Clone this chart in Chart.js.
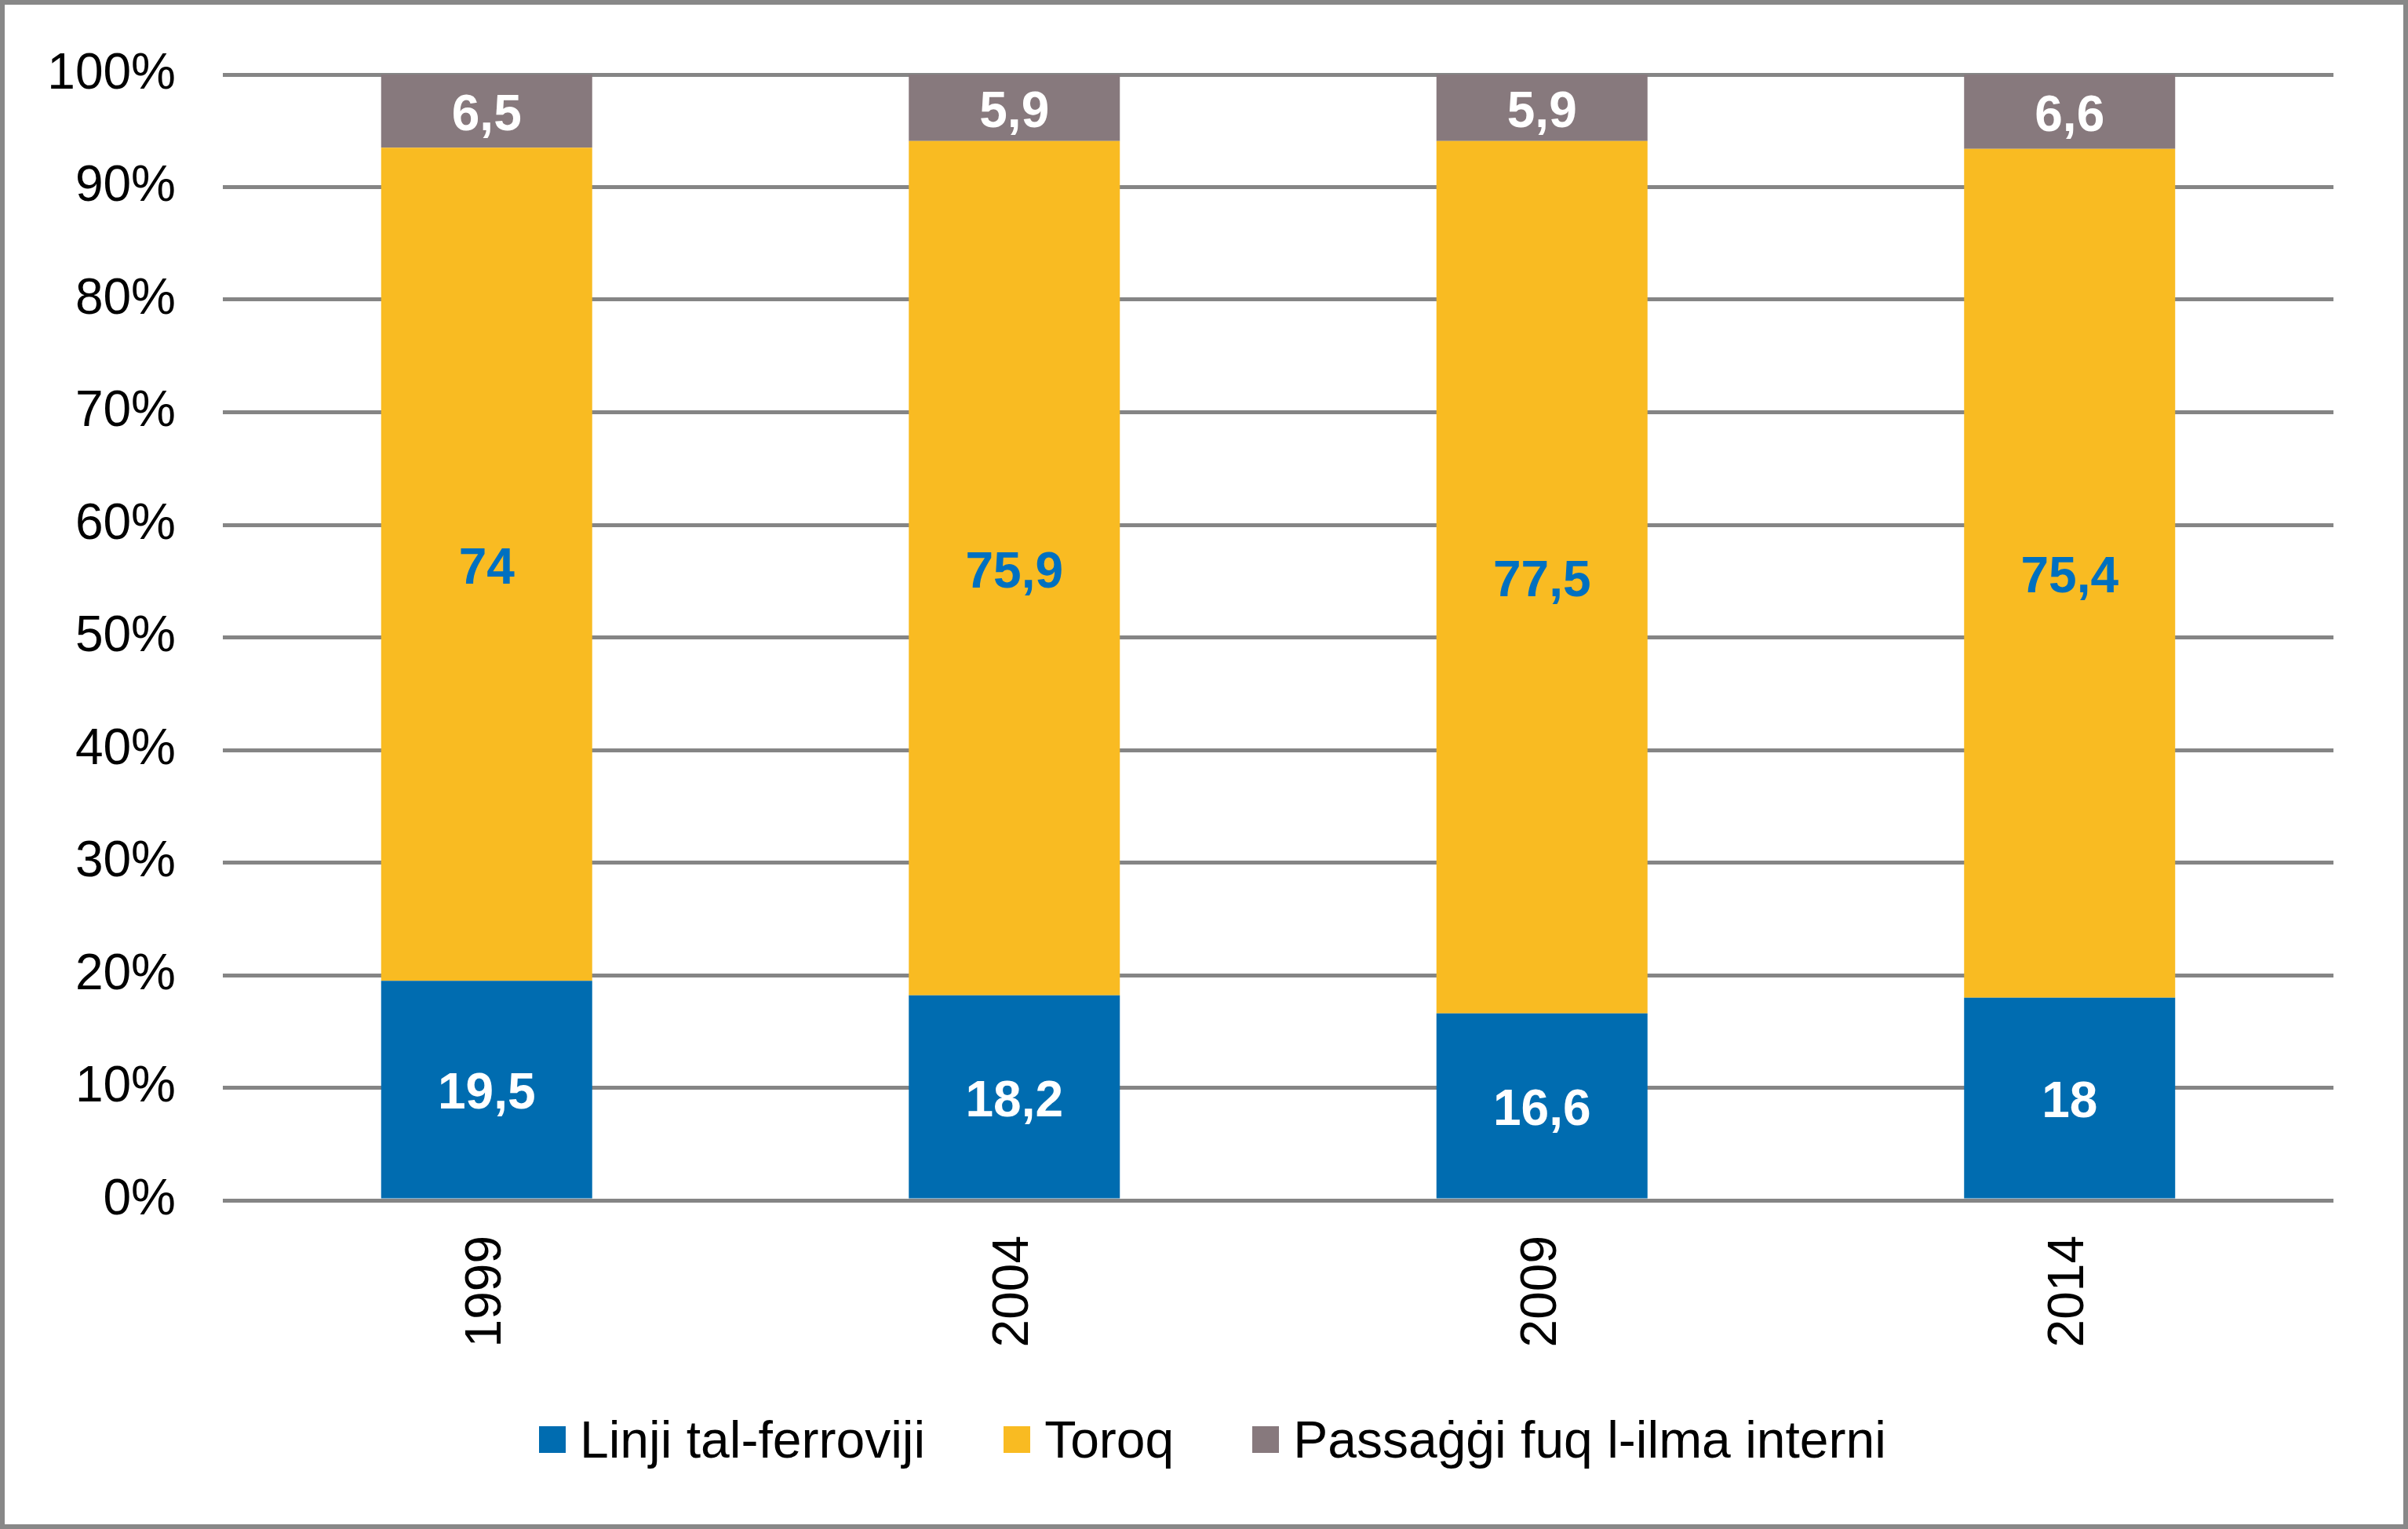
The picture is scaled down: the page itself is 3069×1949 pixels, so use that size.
<!DOCTYPE html>
<html>
<head>
<meta charset="utf-8">
<script src="https://cdn.jsdelivr.net/npm/chart.js@4.4.1/dist/chart.umd.min.js"></script>
<style>
  html, body { margin: 0; padding: 0; background: #fff; }
  #wrap {
    position: relative;
    width: 3069px;
    height: 1949px;
    box-sizing: border-box;
    border: 6px solid #888888;
    background: #fff;
  }
  #chart { display: block; width: 3057px; height: 1937px; }
  #legend {
    position: absolute;
    left: 681px;
    top: 1796px;
    height: 66px;
    display: flex;
    align-items: center;
    font-family: 'Liberation Sans', Arial, sans-serif;
    font-size: 66px;
    color: #000;
    white-space: nowrap;
  }
  #legend .item { display: flex; align-items: center; margin-right: 100px; }
  #legend .box { width: 34px; height: 34px; margin-right: 18px; }
</style>
</head>
<body>
<div id="wrap">
  <canvas id="chart" width="3057" height="1937"></canvas>
  <div id="legend"></div>
</div>
<script>
const years = ["1999", "2004", "2009", "2014"];
const seriesNames = ["Linji tal-ferroviji", "Toroq", "Passaġġi fuq l-ilma interni"];
const railValues = [19.5, 18.2, 16.6, 18];
const roadValues = [74, 75.9, 77.5, 75.4];
const waterValues = [6.5, 5.9, 5.9, 6.6];
const yTicks = [0, 10, 20, 30, 40, 50, 60, 70, 80, 90, 100];

const FONT = "'Liberation Sans', Arial, sans-serif";
const barColors = ["#006CB0", "#F9BB22", "#87797D"];
const labelColors = ["#ffffff", "#0070C0", "#ffffff"];

// writes the value in the middle of every stacked segment
const segmentLabels = {
  id: "segmentLabels",
  afterDatasetsDraw(chart) {
    const ctx = chart.ctx;
    ctx.save();
    ctx.font = "bold 64px " + FONT;
    ctx.textAlign = "center";
    ctx.textBaseline = "middle";
    chart.data.datasets.forEach((ds, i) => {
      const meta = chart.getDatasetMeta(i);
      if (meta.hidden) return;
      ctx.fillStyle = labelColors[i];
      meta.data.forEach((bar, j) => {
        const { x, y, base } = bar.getProps(["x", "y", "base"], true);
        const txt = String(ds.data[j]).replace(".", ",");
        ctx.fillText(txt, x, (y + base) / 2 + 7);
      });
    });
    ctx.restore();
  }
};

const valueLists = [railValues, roadValues, waterValues];

const chart = new Chart(document.getElementById("chart"), {
  type: "bar",
  data: {
    labels: years,
    datasets: seriesNames.map((name, i) => ({
      label: name,
      data: valueLists[i],
      backgroundColor: barColors[i],
      borderWidth: 0,
      barPercentage: 0.4,
      categoryPercentage: 1
    }))
  },
  options: {
    responsive: false,
    animation: false,
    devicePixelRatio: 1,
    layout: {
      padding: { left: 0, right: 89, top: 89, bottom: 213 }
    },
    plugins: {
      legend: { display: false },
      tooltip: { enabled: false }
    },
    scales: {
      x: {
        stacked: true,
        grid: { display: false, drawTicks: false },
        border: { display: false },
        ticks: {
          color: "#000",
          font: { family: FONT, size: 64 },
          minRotation: 90,
          maxRotation: 90,
          padding: 45
        },
        afterFit(scale) { scale.height = 200; }
      },
      y: {
        stacked: true,
        min: 0,
        max: 100,
        grid: { color: "#858585", lineWidth: 5, drawTicks: false },
        border: { display: false },
        afterBuildTicks(scale) { scale.ticks = yTicks.map(v => ({ value: v })); },
        ticks: {
          color: "#000",
          font: { family: FONT, size: 64 },
          padding: 60,
          callback: v => v + "%"
        },
        afterFit(scale) {
          scale.width = 278;
          // tick padding is horizontal only here, keep it out of the vertical margins
          scale.paddingTop = 40;
          scale.paddingBottom = 40;
        }
      }
    }
  },
  plugins: [segmentLabels]
});

// legend built from the same series names and colours
const legendEl = document.getElementById("legend");
chart.data.datasets.forEach(ds => {
  const item = document.createElement("div");
  item.className = "item";
  const box = document.createElement("span");
  box.className = "box";
  box.style.background = ds.backgroundColor;
  const txt = document.createElement("span");
  txt.textContent = ds.label;
  item.appendChild(box);
  item.appendChild(txt);
  legendEl.appendChild(item);
});
</script>
</body>
</html>
